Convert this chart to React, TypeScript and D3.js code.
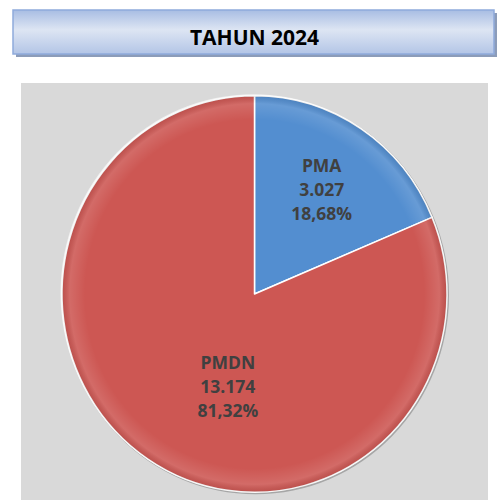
import React, { useEffect, useRef } from "react";
import * as d3 from "d3";

const categories = ["PMA", "PMDN"];
const projects = [3027, 13174];
const shares = ["18,68%", "81,32%"];
const valueLabels = ["3.027", "13.174"];
const title = "TAHUN 2024";

const colors = ["#538ED0", "#CD5753"];

function App() {
  const width = 504;
  const height = 500;
  const svgRef = useRef<SVGSVGElement>(null);

  useEffect(() => {
    const svg = d3.select(svgRef.current);
    svg.selectAll("*").remove();

    const defs = svg.append("defs");
    const tg = defs
      .append("linearGradient")
      .attr("id", "titleGrad")
      .attr("x1", 0)
      .attr("y1", 0)
      .attr("x2", 0)
      .attr("y2", 1);
    tg.append("stop").attr("offset", "0%").attr("stop-color", "#A8BDE3");
    tg.append("stop").attr("offset", "45%").attr("stop-color", "#DDE5F3");
    tg.append("stop").attr("offset", "100%").attr("stop-color", "#B3C5E6");

    const rg = defs
      .append("radialGradient")
      .attr("id", "bevel")
      .attr("cx", "50%")
      .attr("cy", "50%")
      .attr("r", "50%");
    rg.append("stop").attr("offset", "0%").attr("stop-color", "#fff").attr("stop-opacity", 0);
    rg.append("stop").attr("offset", "88%").attr("stop-color", "#fff").attr("stop-opacity", 0);
    rg.append("stop").attr("offset", "96%").attr("stop-color", "#fff").attr("stop-opacity", 0.12);
    rg.append("stop").attr("offset", "100%").attr("stop-color", "#000").attr("stop-opacity", 0.08);

    // title box
    const box = { x: 13, y: 10, w: 481, h: 44 };
    svg
      .append("rect")
      .attr("x", box.x + 3)
      .attr("y", box.y + 3)
      .attr("width", box.w)
      .attr("height", box.h)
      .attr("fill", "#8C9CB9");
    svg
      .append("rect")
      .attr("x", box.x)
      .attr("y", box.y)
      .attr("width", box.w)
      .attr("height", box.h)
      .attr("fill", "url(#titleGrad)")
      .attr("stroke", "#8FAADB")
      .attr("stroke-width", 1.5);
    svg
      .append("text")
      .attr("x", box.x + box.w / 2 + 1)
      .attr("y", box.y + 35)
      .attr("text-anchor", "middle")
      .style("font-family", "'Open Sans', sans-serif")
      .style("font-weight", "bold")
      .style("font-size", "21px")
      .attr("fill", "#000")
      .text(title);

    // chart area
    svg
      .append("rect")
      .attr("x", 21)
      .attr("y", 83)
      .attr("width", 467)
      .attr("height", 417)
      .attr("fill", "#D9D9D9");

    const cx = 254.5;
    const cy = 294;
    const radius = 192.5;
    const yStretch = 1.03;

    const pie = d3
      .pie<number>()
      .sort(null)
      .value((d) => d);
    const arcs = pie(projects);
    const arc = d3.arc<d3.PieArcDatum<number>>().innerRadius(0).outerRadius(radius);

    const g = svg
      .append("g")
      .attr("transform", `translate(${cx},${cy}) scale(1,${yStretch})`);

    // rim shadow / highlight
    g.append("circle")
      .attr("cx", 1)
      .attr("cy", 1)
      .attr("r", radius + 1)
      .attr("fill", "#A6A6A6");
    g.append("circle")
      .attr("cx", -1)
      .attr("cy", -1)
      .attr("r", radius + 0.5)
      .attr("fill", "#F2F2F2");

    g.selectAll("path.slice")
      .data(arcs)
      .join("path")
      .attr("class", "slice")
      .attr("d", arc)
      .attr("fill", (d, i) => colors[i])
      .attr("stroke", "#fff")
      .attr("stroke-width", 1.5)
      .attr("stroke-linejoin", "round");

    g.append("circle").attr("r", radius).attr("fill", "url(#bevel)");

    // labels: Excel "best fit" places them at different depths
    const labelRadius = [0.63, 0.49];
    const labelAngleShift = [0, -0.3];
    const labels = svg.append("g");
    arcs.forEach((a, i) => {
      const ang = (a.startAngle + a.endAngle) / 2 + labelAngleShift[i];
      const r = radius * labelRadius[i];
      const x = cx + r * Math.sin(ang);
      const y = cy - r * Math.cos(ang) * yStretch;
      const t = labels
        .append("text")
        .attr("text-anchor", "middle")
        .style("font-family", "'Open Sans', sans-serif")
        .style("font-weight", "bold")
        .style("font-size", "17.5px")
        .attr("fill", "#404040");
      [categories[i], valueLabels[i], shares[i]].forEach((s, k) => {
        t.append("tspan")
          .attr("x", x)
          .attr("y", y + (k - 1) * 24 + 6)
          .text(s);
      });
    });
  }, []);

  return (
    <svg
      ref={svgRef}
      width={width}
      height={height}
      style={{ position: "absolute", left: 0, top: 0, background: "#fff" }}
    />
  );
}

export default App;
